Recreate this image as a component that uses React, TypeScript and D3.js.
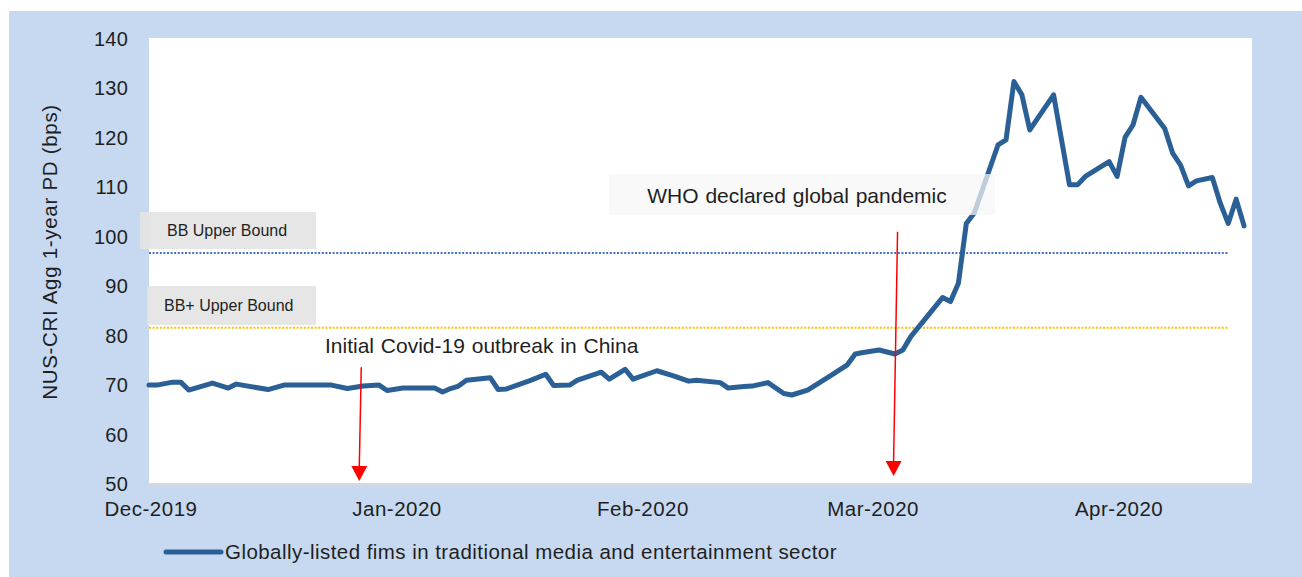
import React from "react";
import * as d3 from "d3";

// Daily aggregate 1-year PD readings (bps)
const dates: string[] = [
  "2019-12-01", "2019-12-02", "2019-12-04", "2019-12-05", "2019-12-06", "2019-12-09",
  "2019-12-11", "2019-12-12", "2019-12-16", "2019-12-18", "2019-12-19", "2019-12-24",
  "2019-12-26", "2019-12-28", "2019-12-30", "2019-12-31", "2020-01-02", "2020-01-06",
  "2020-01-07", "2020-01-08", "2020-01-09", "2020-01-10", "2020-01-13", "2020-01-14",
  "2020-01-15", "2020-01-18", "2020-01-20", "2020-01-21", "2020-01-23", "2020-01-24",
  "2020-01-27", "2020-01-28", "2020-01-30", "2020-01-31", "2020-02-03", "2020-02-05",
  "2020-02-07", "2020-02-08", "2020-02-11", "2020-02-12", "2020-02-14", "2020-02-15",
  "2020-02-17", "2020-02-19", "2020-02-20", "2020-02-22", "2020-02-24", "2020-02-25",
  "2020-02-27", "2020-02-28", "2020-02-29", "2020-03-02", "2020-03-04", "2020-03-05",
  "2020-03-06", "2020-03-10", "2020-03-11", "2020-03-12", "2020-03-13", "2020-03-14",
  "2020-03-17", "2020-03-18", "2020-03-19", "2020-03-20", "2020-03-21", "2020-03-24",
  "2020-03-25", "2020-03-26", "2020-03-27", "2020-03-28", "2020-03-31", "2020-04-01",
  "2020-04-02", "2020-04-03", "2020-04-04", "2020-04-07", "2020-04-08", "2020-04-09",
  "2020-04-10", "2020-04-11", "2020-04-13", "2020-04-14", "2020-04-15", "2020-04-16",
  "2020-04-17",
];

const pdValues: number[] = [
  69.8, 69.8, 70.4, 70.4, 68.8, 70.2,
  69.2, 70.0, 68.9, 69.8, 69.8, 69.8,
  69.1, 69.6, 69.8, 68.7, 69.2, 69.2,
  68.4, 69.1, 69.6, 70.8, 71.3, 68.9,
  69.0, 70.7, 72.0, 69.7, 69.8, 70.8,
  72.4, 71.0, 73.0, 71.0, 72.7, 71.7,
  70.6, 70.8, 70.3, 69.2, 69.5, 69.6,
  70.3, 68.1, 67.8, 68.8, 70.8, 71.8,
  73.9, 76.1, 76.4, 76.9, 76.1, 76.9,
  79.6, 87.5, 86.7, 90.4, 102.5, 104.6,
  118.4, 119.4, 131.2, 128.5, 121.4, 128.5,
  119.4, 110.3, 110.3, 112.0, 115.0, 112.0,
  119.9, 122.4, 128.0, 121.7, 116.7, 114.3,
  110.1, 111.1, 111.8, 106.6, 102.5, 107.4,
  102.0,
];

const yTicks: number[] = [50, 60, 70, 80, 90, 100, 110, 120, 130, 140];
const xDomain: string[] = ["2019-12-01", "2020-04-18"];

const boundLabels: string[] = ["BB Upper Bound", "BB+ Upper Bound"];
const boundValues: number[] = [96.5, 81.4];
const boundColors: string[] = ["#4472C4", "#FFC000"];
const boundEnd = "2020-04-15";

const seriesName = "Globally-listed fims in traditional media and entertainment sector";
const yTitle = "NUS-CRI Agg 1-year PD (bps)";

const eventLabels: string[] = ["Initial Covid-19 outbreak in China", "WHO declared global pandemic"];
// arrow start/end (date-time, value)
const eventArrowStart: [Date, number][] = [
  [new Date(2019, 11, 27, 18), 73.4],
  [new Date(2020, 2, 4, 8), 100.8],
];
const eventArrowEnd: [Date, number][] = [
  [new Date(2019, 11, 27, 12), 50.4],
  [new Date(2020, 2, 3, 20), 51.4],
];

const FONT = "'Liberation Sans', Arial, sans-serif";
const LINE_COLOR = "#2A6096";
const TEXT_COLOR = "#1F1F1F";

export default function App() {
  const W = 1302;
  const H = 577;
  const plot = { left: 149, top: 38, right: 1252, bottom: 483 };

  const parse = d3.timeParse("%Y-%m-%d");
  const data = dates.map((d, i) => ({ date: parse(d) as Date, value: pdValues[i] }));

  const x = d3
    .scaleTime()
    .domain(xDomain.map((d) => parse(d) as Date))
    .range([plot.left, plot.right]);
  const y = d3.scaleLinear().domain([50, 140]).range([plot.bottom, plot.top]);

  const line = d3
    .line<{ date: Date; value: number }>()
    .x((d) => x(d.date))
    .y((d) => y(d.value))
    .curve(d3.curveLinear);

  const monthTicks = d3.timeMonth.range(x.domain()[0], d3.timeDay.offset(x.domain()[1], 1));
  const fmt = d3.timeFormat("%b-%Y");
  const endX = x(parse(boundEnd) as Date);

  const boundBoxes = [
    { x: 140, y: 212, w: 176, h: 37, tx: 167 },
    { x: 147, y: 286, w: 169, h: 39, tx: 164 },
  ];

  return (
    <svg
      width={W}
      height={H}
      style={{ position: "absolute", left: 0, top: 0, display: "block" }}
      fontFamily={FONT}
    >
      <rect x={0} y={0} width={W} height={H} fill="#FFFFFF" />
      <rect x={9} y={11} width={W - 9} height={H - 11} fill="#C6D9F0" />
      <rect
        x={plot.left}
        y={plot.top}
        width={plot.right - plot.left}
        height={plot.bottom - plot.top}
        fill="#FFFFFF"
      />

      {/* rating bound reference lines */}
      {boundValues.map((v, i) => (
        <line
          key={"b" + i}
          x1={plot.left}
          x2={endX}
          y1={y(v)}
          y2={y(v)}
          stroke={boundColors[i]}
          strokeWidth={2}
          strokeDasharray="2 1.6"
        />
      ))}

      {/* bound label boxes */}
      {boundLabels.map((lab, i) => (
        <g key={"bl" + i}>
          <rect
            x={boundBoxes[i].x}
            y={boundBoxes[i].y}
            width={boundBoxes[i].w}
            height={boundBoxes[i].h}
            fill="#E3E3E3"
            fillOpacity={0.9}
          />
          <text
            x={boundBoxes[i].tx}
            y={boundBoxes[i].y + boundBoxes[i].h / 2}
            dominantBaseline="central"
            fontSize={16}
            fill={TEXT_COLOR}
          >
            {lab}
          </text>
        </g>
      ))}

      {/* x axis */}
      <line
        x1={plot.left}
        x2={plot.right}
        y1={plot.bottom + 1}
        y2={plot.bottom + 1}
        stroke="#D9D9D9"
        strokeWidth={2}
      />
      {monthTicks.map((t, i) => (
        <g key={"xt" + i}>
          <line
            x1={x(t)}
            x2={x(t)}
            y1={plot.bottom + 1}
            y2={plot.bottom + 6}
            stroke="#D9D9D9"
            strokeWidth={1}
          />
          <text
            x={x(t) + 2}
            y={516}
            textAnchor="middle"
            fontSize={20.5}
            letterSpacing={0.5}
            fill={TEXT_COLOR}
          >
            {fmt(t)}
          </text>
        </g>
      ))}

      {/* y axis labels */}
      {yTicks.map((t) => (
        <text
          key={"yt" + t}
          x={128}
          y={y(t) + 1}
          textAnchor="end"
          dominantBaseline="central"
          fontSize={20}
          letterSpacing={0.2}
          fill={TEXT_COLOR}
        >
          {t}
        </text>
      ))}
      <text
        transform={`translate(49, 252) rotate(-90)`}
        textAnchor="middle"
        dominantBaseline="central"
        fontSize={20.5}
        letterSpacing={0.7}
        fill={TEXT_COLOR}
      >
        {yTitle}
      </text>

      {/* series */}
      <path
        d={line(data) || ""}
        fill="none"
        stroke={LINE_COLOR}
        strokeWidth={5}
        strokeLinejoin="round"
        strokeLinecap="round"
      />

      {/* event annotations */}
      <text x={325} y={353} fontSize={21} fill={TEXT_COLOR} wordSpacing={1}>
        {eventLabels[0]}
      </text>
      <rect x={609} y={174} width={386} height={41} fill="#F7F7F7" fillOpacity={0.72} />
      <text x={797} y={203} textAnchor="middle" fontSize={21} fill={TEXT_COLOR} wordSpacing={1}>
        {eventLabels[1]}
      </text>
      {eventArrowStart.map((s, i) => {
        const e = eventArrowEnd[i];
        const x1 = x(s[0]);
        const y1 = y(s[1]);
        const x2 = x(e[0]);
        const y2 = y(e[1]);
        const headH = 15;
        const headW = 8;
        return (
          <g key={"ev" + i}>
            <line
              x1={x1}
              y1={y1}
              x2={x2}
              y2={y2 - headH + 1}
              stroke="#FF0000"
              strokeWidth={1.5}
            />
            <path
              d={`M${x2 - headW},${y2 - headH} L${x2 + headW},${y2 - headH} L${x2},${y2} Z`}
              fill="#FF0000"
            />
          </g>
        );
      })}

      {/* legend */}
      <line x1={166} x2={221} y1={552} y2={552} stroke={LINE_COLOR} strokeWidth={5} strokeLinecap="round" />
      <text x={225} y={559} fontSize={20.5} letterSpacing={0.45} fill={TEXT_COLOR}>
        {seriesName}
      </text>
    </svg>
  );
}
